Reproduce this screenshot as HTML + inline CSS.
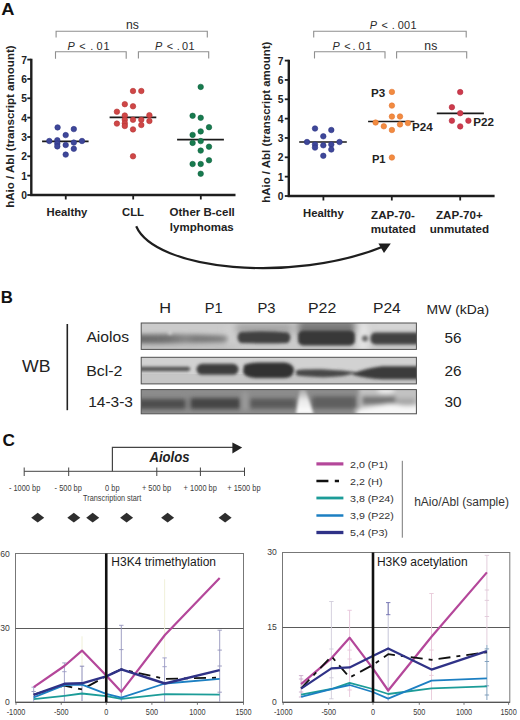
<!DOCTYPE html>
<html><head><meta charset="utf-8"><title>Figure</title>
<style>html,body{margin:0;padding:0;background:#fff;overflow:hidden;}svg{display:block;}</style></head>
<body><svg width="520" height="720" viewBox="0 0 520 720" font-family='"Liberation Sans", sans-serif'>
<rect width="520" height="720" fill="#fff"/>
<path d="M31.3 58.800000000000004V195H235.5" fill="none" stroke="#1e1e1e" stroke-width="2.4"/><path d="M27.3 195.00H31.3" stroke="#1e1e1e" stroke-width="1.8"/><text x="26.9" y="199.10" text-anchor="end" font-size="10.3" font-weight="bold" fill="#222">0</text><path d="M27.3 175.66H31.3" stroke="#1e1e1e" stroke-width="1.8"/><text x="26.9" y="179.76" text-anchor="end" font-size="10.3" font-weight="bold" fill="#222">1</text><path d="M27.3 156.31H31.3" stroke="#1e1e1e" stroke-width="1.8"/><text x="26.9" y="160.41" text-anchor="end" font-size="10.3" font-weight="bold" fill="#222">2</text><path d="M27.3 136.97H31.3" stroke="#1e1e1e" stroke-width="1.8"/><text x="26.9" y="141.07" text-anchor="end" font-size="10.3" font-weight="bold" fill="#222">3</text><path d="M27.3 117.63H31.3" stroke="#1e1e1e" stroke-width="1.8"/><text x="26.9" y="121.73" text-anchor="end" font-size="10.3" font-weight="bold" fill="#222">4</text><path d="M27.3 98.29H31.3" stroke="#1e1e1e" stroke-width="1.8"/><text x="26.9" y="102.39" text-anchor="end" font-size="10.3" font-weight="bold" fill="#222">5</text><path d="M27.3 78.94H31.3" stroke="#1e1e1e" stroke-width="1.8"/><text x="26.9" y="83.04" text-anchor="end" font-size="10.3" font-weight="bold" fill="#222">6</text><path d="M27.3 59.60H31.3" stroke="#1e1e1e" stroke-width="1.8"/><text x="26.9" y="63.70" text-anchor="end" font-size="10.3" font-weight="bold" fill="#222">7</text><path d="M65.75 195V199.5" stroke="#1e1e1e" stroke-width="1.8"/><path d="M133.2 195V199.5" stroke="#1e1e1e" stroke-width="1.8"/><path d="M200.8 195V199.5" stroke="#1e1e1e" stroke-width="1.8"/><path d="M56.1 37.6V31.3H207.3V37.6" fill="none" stroke="#8f8f8f" stroke-width="1.1"/><path d="M55.5 58.7V51.8H126.2V58.7" fill="none" stroke="#8f8f8f" stroke-width="1.1"/><path d="M138.4 58.5V51.8H208.7V58.5" fill="none" stroke="#8f8f8f" stroke-width="1.1"/><text x="132.4" y="28.9" text-anchor="middle" font-size="12.2" fill="#2a2a2a">ns</text><text y="50" font-size="10.9" fill="#2a2a2a"><tspan x="67.6" font-style="italic">P</tspan><tspan x="79.2">&lt;</tspan><tspan x="90.3">.</tspan><tspan x="96.6">0</tspan><tspan x="103.4">1</tspan></text><text y="50" font-size="10.9" fill="#2a2a2a"><tspan x="155.1" font-style="italic">P</tspan><tspan x="166.7">&lt;</tspan><tspan x="176.7">.</tspan><tspan x="182.1">0</tspan><tspan x="188.4">1</tspan></text><path d="M42.1 141.3H88.6M109.6 117.4H156.3M177.1 139.6H223.9" stroke="#1a1a1a" stroke-width="1.7"/><circle cx="57.6" cy="127.4" r="2.75" fill="#3e4799" stroke="#2e3484" stroke-width="0.6"/><circle cx="73.8" cy="129.1" r="2.75" fill="#3e4799" stroke="#2e3484" stroke-width="0.6"/><circle cx="65.7" cy="135.1" r="2.75" fill="#3e4799" stroke="#2e3484" stroke-width="0.6"/><circle cx="49.3" cy="141" r="2.75" fill="#3e4799" stroke="#2e3484" stroke-width="0.6"/><circle cx="57.3" cy="140.2" r="2.75" fill="#3e4799" stroke="#2e3484" stroke-width="0.6"/><circle cx="57.3" cy="143.6" r="2.75" fill="#3e4799" stroke="#2e3484" stroke-width="0.6"/><circle cx="57.3" cy="146.4" r="2.75" fill="#3e4799" stroke="#2e3484" stroke-width="0.6"/><circle cx="65.7" cy="145" r="2.75" fill="#3e4799" stroke="#2e3484" stroke-width="0.6"/><circle cx="73.8" cy="142.6" r="2.75" fill="#3e4799" stroke="#2e3484" stroke-width="0.6"/><circle cx="73.8" cy="148.8" r="2.75" fill="#3e4799" stroke="#2e3484" stroke-width="0.6"/><circle cx="82" cy="141" r="2.75" fill="#3e4799" stroke="#2e3484" stroke-width="0.6"/><circle cx="65.7" cy="154.6" r="2.75" fill="#3e4799" stroke="#2e3484" stroke-width="0.6"/><circle cx="133" cy="91" r="2.75" fill="#cf4747" stroke="#b63434" stroke-width="0.6"/><circle cx="141.3" cy="91" r="2.75" fill="#cf4747" stroke="#b63434" stroke-width="0.6"/><circle cx="124.8" cy="104.2" r="2.75" fill="#cf4747" stroke="#b63434" stroke-width="0.6"/><circle cx="133" cy="106.3" r="2.75" fill="#cf4747" stroke="#b63434" stroke-width="0.6"/><circle cx="116.9" cy="111.7" r="2.75" fill="#cf4747" stroke="#b63434" stroke-width="0.6"/><circle cx="124.8" cy="115.5" r="2.75" fill="#cf4747" stroke="#b63434" stroke-width="0.6"/><circle cx="149.4" cy="115.2" r="2.75" fill="#cf4747" stroke="#b63434" stroke-width="0.6"/><circle cx="133" cy="119.8" r="2.75" fill="#cf4747" stroke="#b63434" stroke-width="0.6"/><circle cx="141.3" cy="119.8" r="2.75" fill="#cf4747" stroke="#b63434" stroke-width="0.6"/><circle cx="149.4" cy="121" r="2.75" fill="#cf4747" stroke="#b63434" stroke-width="0.6"/><circle cx="116.9" cy="123.6" r="2.75" fill="#cf4747" stroke="#b63434" stroke-width="0.6"/><circle cx="124.8" cy="119.8" r="2.75" fill="#cf4747" stroke="#b63434" stroke-width="0.6"/><circle cx="124.8" cy="123.3" r="2.75" fill="#cf4747" stroke="#b63434" stroke-width="0.6"/><circle cx="124.8" cy="126" r="2.75" fill="#cf4747" stroke="#b63434" stroke-width="0.6"/><circle cx="141.3" cy="125" r="2.75" fill="#cf4747" stroke="#b63434" stroke-width="0.6"/><circle cx="133" cy="129.4" r="2.75" fill="#cf4747" stroke="#b63434" stroke-width="0.6"/><circle cx="133" cy="156.3" r="2.75" fill="#cf4747" stroke="#b63434" stroke-width="0.6"/><circle cx="200.7" cy="86.9" r="2.75" fill="#177b4e" stroke="#0f6140" stroke-width="0.6"/><circle cx="192.6" cy="115.8" r="2.75" fill="#177b4e" stroke="#0f6140" stroke-width="0.6"/><circle cx="200.7" cy="117.8" r="2.75" fill="#177b4e" stroke="#0f6140" stroke-width="0.6"/><circle cx="209" cy="127.2" r="2.75" fill="#177b4e" stroke="#0f6140" stroke-width="0.6"/><circle cx="200.7" cy="131.4" r="2.75" fill="#177b4e" stroke="#0f6140" stroke-width="0.6"/><circle cx="192.6" cy="134.9" r="2.75" fill="#177b4e" stroke="#0f6140" stroke-width="0.6"/><circle cx="200.7" cy="141.1" r="2.75" fill="#177b4e" stroke="#0f6140" stroke-width="0.6"/><circle cx="192.6" cy="142.9" r="2.75" fill="#177b4e" stroke="#0f6140" stroke-width="0.6"/><circle cx="209" cy="146.7" r="2.75" fill="#177b4e" stroke="#0f6140" stroke-width="0.6"/><circle cx="200.7" cy="150.6" r="2.75" fill="#177b4e" stroke="#0f6140" stroke-width="0.6"/><circle cx="209" cy="160.3" r="2.75" fill="#177b4e" stroke="#0f6140" stroke-width="0.6"/><circle cx="192.6" cy="164" r="2.75" fill="#177b4e" stroke="#0f6140" stroke-width="0.6"/><circle cx="200.7" cy="164" r="2.75" fill="#177b4e" stroke="#0f6140" stroke-width="0.6"/><circle cx="200.7" cy="173.75" r="2.75" fill="#177b4e" stroke="#0f6140" stroke-width="0.6"/><text x="9.8" y="126.6" transform="rotate(-90 9.8 126.6)" dy="3.9" text-anchor="middle" font-size="11.55" font-weight="bold" fill="#222">hAio / Abl (transcript amount)</text><g fill="#222"><text x="67.00" y="216.20" font-size="11.30" font-weight="bold" text-anchor="middle" fill="#222">Healthy</text><text x="133.00" y="216.20" font-size="11.30" font-weight="bold" text-anchor="middle" fill="#222">CLL</text><text x="202.20" y="216.20" font-size="11.50" font-weight="bold" text-anchor="middle" fill="#222">Other B-cell</text><text x="201.80" y="230.60" font-size="11.50" font-weight="bold" text-anchor="middle" fill="#222">lymphomas</text></g><path d="M288.8 59.800000000000004V196H494.6" fill="none" stroke="#1e1e1e" stroke-width="2.4"/><path d="M284.8 196.00H288.8" stroke="#1e1e1e" stroke-width="1.8"/><text x="283.5" y="200.10" text-anchor="end" font-size="10.3" font-weight="bold" fill="#222">0</text><path d="M284.8 176.66H288.8" stroke="#1e1e1e" stroke-width="1.8"/><text x="283.5" y="180.76" text-anchor="end" font-size="10.3" font-weight="bold" fill="#222">1</text><path d="M284.8 157.31H288.8" stroke="#1e1e1e" stroke-width="1.8"/><text x="283.5" y="161.41" text-anchor="end" font-size="10.3" font-weight="bold" fill="#222">2</text><path d="M284.8 137.97H288.8" stroke="#1e1e1e" stroke-width="1.8"/><text x="283.5" y="142.07" text-anchor="end" font-size="10.3" font-weight="bold" fill="#222">3</text><path d="M284.8 118.63H288.8" stroke="#1e1e1e" stroke-width="1.8"/><text x="283.5" y="122.73" text-anchor="end" font-size="10.3" font-weight="bold" fill="#222">4</text><path d="M284.8 99.29H288.8" stroke="#1e1e1e" stroke-width="1.8"/><text x="283.5" y="103.39" text-anchor="end" font-size="10.3" font-weight="bold" fill="#222">5</text><path d="M284.8 79.94H288.8" stroke="#1e1e1e" stroke-width="1.8"/><text x="283.5" y="84.04" text-anchor="end" font-size="10.3" font-weight="bold" fill="#222">6</text><path d="M284.8 60.60H288.8" stroke="#1e1e1e" stroke-width="1.8"/><text x="283.5" y="64.70" text-anchor="end" font-size="10.3" font-weight="bold" fill="#222">7</text><path d="M323.4 196V200.5" stroke="#1e1e1e" stroke-width="1.8"/><path d="M391.8 196V200.5" stroke="#1e1e1e" stroke-width="1.8"/><path d="M460.2 196V200.5" stroke="#1e1e1e" stroke-width="1.8"/><path d="M313.7 37.6V31.3H466.2V37.6" fill="none" stroke="#8f8f8f" stroke-width="1.1"/><path d="M314.5 58.4V51.8H385V58.4" fill="none" stroke="#8f8f8f" stroke-width="1.1"/><path d="M396.6 58.4V51.8H466.7V58.4" fill="none" stroke="#8f8f8f" stroke-width="1.1"/><text y="29.4" font-size="10.9" fill="#2a2a2a"><tspan x="369.8" font-style="italic">P</tspan><tspan x="381.4">&lt;</tspan><tspan x="391.7">.</tspan><tspan x="397.8">0</tspan><tspan x="404">0</tspan><tspan x="410.6">1</tspan></text><text y="49.9" font-size="10.9" fill="#2a2a2a"><tspan x="332.6" font-style="italic">P</tspan><tspan x="344.2">&lt;</tspan><tspan x="352.6">.</tspan><tspan x="358.6">0</tspan><tspan x="365.6">1</tspan></text><text x="430.8" y="49.6" text-anchor="middle" font-size="12.2" fill="#2a2a2a">ns</text><path d="M299.2 142H346.8M368.1 121.5H414.4M436.8 113.3H483.9" stroke="#1a1a1a" stroke-width="1.7"/><circle cx="315" cy="128.5" r="2.75" fill="#3e4799" stroke="#2e3484" stroke-width="0.6"/><circle cx="331.3" cy="130" r="2.75" fill="#3e4799" stroke="#2e3484" stroke-width="0.6"/><circle cx="323.3" cy="136.3" r="2.75" fill="#3e4799" stroke="#2e3484" stroke-width="0.6"/><circle cx="307" cy="142" r="2.75" fill="#3e4799" stroke="#2e3484" stroke-width="0.6"/><circle cx="315" cy="144.5" r="2.75" fill="#3e4799" stroke="#2e3484" stroke-width="0.6"/><circle cx="323.3" cy="145.3" r="2.75" fill="#3e4799" stroke="#2e3484" stroke-width="0.6"/><circle cx="331.3" cy="144.5" r="2.75" fill="#3e4799" stroke="#2e3484" stroke-width="0.6"/><circle cx="339.5" cy="142" r="2.75" fill="#3e4799" stroke="#2e3484" stroke-width="0.6"/><circle cx="315" cy="147.6" r="2.75" fill="#3e4799" stroke="#2e3484" stroke-width="0.6"/><circle cx="331.3" cy="149.5" r="2.75" fill="#3e4799" stroke="#2e3484" stroke-width="0.6"/><circle cx="323.3" cy="155.8" r="2.75" fill="#3e4799" stroke="#2e3484" stroke-width="0.6"/><circle cx="391.9" cy="91.9" r="2.75" fill="#f28b40" stroke="#e27632" stroke-width="0.6"/><circle cx="391.9" cy="105.6" r="2.75" fill="#f28b40" stroke="#e27632" stroke-width="0.6"/><circle cx="391.9" cy="116.6" r="2.75" fill="#f28b40" stroke="#e27632" stroke-width="0.6"/><circle cx="400" cy="116.5" r="2.75" fill="#f28b40" stroke="#e27632" stroke-width="0.6"/><circle cx="375.6" cy="122.5" r="2.75" fill="#f28b40" stroke="#e27632" stroke-width="0.6"/><circle cx="383.8" cy="126.3" r="2.75" fill="#f28b40" stroke="#e27632" stroke-width="0.6"/><circle cx="391.9" cy="130" r="2.75" fill="#f28b40" stroke="#e27632" stroke-width="0.6"/><circle cx="400" cy="124.4" r="2.75" fill="#f28b40" stroke="#e27632" stroke-width="0.6"/><circle cx="407.9" cy="123.1" r="2.75" fill="#f28b40" stroke="#e27632" stroke-width="0.6"/><circle cx="391.9" cy="157.5" r="2.75" fill="#f28b40" stroke="#e27632" stroke-width="0.6"/><circle cx="460.2" cy="92.1" r="2.75" fill="#cd3a4c" stroke="#b42c3e" stroke-width="0.6"/><circle cx="451.9" cy="107.2" r="2.75" fill="#cd3a4c" stroke="#b42c3e" stroke-width="0.6"/><circle cx="460.2" cy="113.2" r="2.75" fill="#cd3a4c" stroke="#b42c3e" stroke-width="0.6"/><circle cx="451.9" cy="120.7" r="2.75" fill="#cd3a4c" stroke="#b42c3e" stroke-width="0.6"/><circle cx="468.4" cy="120.7" r="2.75" fill="#cd3a4c" stroke="#b42c3e" stroke-width="0.6"/><circle cx="460.2" cy="126.4" r="2.75" fill="#cd3a4c" stroke="#b42c3e" stroke-width="0.6"/><text x="265.9" y="122.2" transform="rotate(-90 265.9 122.2)" dy="3.9" text-anchor="middle" font-size="11.46" font-weight="bold" fill="#222">hAio / Abl (transcript amount)</text><g fill="#222"><text x="371.10" y="97.20" font-size="11.60" font-weight="bold" fill="#222">P3</text><text x="371.90" y="162.80" font-size="11.20" font-weight="bold" fill="#222">P1</text><text x="412.10" y="130.70" font-size="11.60" font-weight="bold" fill="#222">P24</text><text x="473.30" y="126.40" font-size="11.60" font-weight="bold" fill="#222">P22</text><text x="323.40" y="217.40" font-size="11.30" font-weight="bold" text-anchor="middle" fill="#222">Healthy</text><text x="393.00" y="219.30" font-size="11.60" font-weight="bold" text-anchor="middle" fill="#222">ZAP-70-</text><text x="393.30" y="232.50" font-size="11.60" font-weight="bold" text-anchor="middle" fill="#222">mutated</text><text x="459.40" y="219.30" font-size="11.60" font-weight="bold" text-anchor="middle" fill="#222">ZAP-70+</text><text x="459.40" y="232.50" font-size="11.60" font-weight="bold" text-anchor="middle" fill="#222">unmutated</text></g><path d="M136.2 226.3C155.3 270.4 292.7 283.7 384 246.2" fill="none" stroke="#1e1e1e" stroke-width="2.2"/><path d="M378.4 243.4L390.8 243.4L384 253Z" fill="#1e1e1e"/><text transform="translate(1.3 14.8) scale(1.09 1)" font-size="16.8" font-weight="bold" fill="#111">A</text><text x="0.8" y="302.7" font-size="16.8" font-weight="bold" fill="#111">B</text><text x="2.4" y="446" font-size="17.2" font-weight="bold" fill="#111">C</text><g fill="#222"><text transform="translate(159.30 312.50) scale(1.150 1)" font-size="14.20" fill="#222">H</text><text transform="translate(204.80 312.50) scale(1.030 1)" font-size="14.20" fill="#222">P1</text><text transform="translate(257.40 312.50) scale(1.040 1)" font-size="14.20" fill="#222">P3</text><text transform="translate(308.00 312.50) scale(1.120 1)" font-size="14.20" fill="#222">P22</text><text transform="translate(373.00 312.50) scale(1.100 1)" font-size="14.20" fill="#222">P24</text><text transform="translate(426.60 314.30) scale(1.130 1)" font-size="12.30" fill="#222">MW (kDa)</text><text transform="translate(22.00 372.20) scale(1.120 1)" font-size="15.80" fill="#222">WB</text><text transform="translate(86.40 341.60) scale(1.075 1)" font-size="14.60" fill="#222">Aiolos</text><text transform="translate(86.20 376.20) scale(1.120 1)" font-size="14.20" fill="#222">Bcl-2</text><text transform="translate(88.20 407.20) scale(1.090 1)" font-size="14.20" fill="#222">14-3-3</text><text transform="translate(444.50 342.80) scale(1.080 1)" font-size="14.20" fill="#222">56</text><text transform="translate(444.50 376.20) scale(1.080 1)" font-size="14.20" fill="#222">26</text><text transform="translate(444.50 407.20) scale(1.080 1)" font-size="14.20" fill="#222">30</text></g><path d="M67.3 324V410.2" stroke="#222" stroke-width="1.6"/><defs>
<filter id="bl" x="-20%" y="-80%" width="140%" height="260%"><feGaussianBlur stdDeviation="1.5"/></filter>
<filter id="bl2" x="-20%" y="-80%" width="140%" height="260%"><feGaussianBlur stdDeviation="2.2"/></filter>
<filter id="bl3" x="-20%" y="-80%" width="140%" height="260%"><feGaussianBlur stdDeviation="3.5"/></filter>
<clipPath id="c1"><rect x="141.2" y="323" width="275.2" height="26.4"/></clipPath>
<clipPath id="c2"><rect x="141.2" y="357.3" width="275.2" height="26.6"/></clipPath>
<clipPath id="c3"><rect x="141.2" y="389.6" width="275.2" height="24.2"/></clipPath>
</defs><defs><linearGradient id="hb" x1="141" y1="0" x2="230" y2="0" gradientUnits="userSpaceOnUse"><stop offset="0" stop-color="#6a6a6a"/><stop offset="0.3" stop-color="#727272"/><stop offset="0.5" stop-color="#888"/><stop offset="0.62" stop-color="#7a7a7a"/><stop offset="0.9" stop-color="#808080"/><stop offset="1" stop-color="#a0a0a0"/></linearGradient></defs><g clip-path="url(#c1)"><rect x="141" y="323" width="276" height="27" fill="#cbcbcb"/><g filter="url(#bl3)"><rect x="236" y="324" width="56" height="9" fill="#a0a0a0"/><rect x="298" y="321" width="58" height="13" fill="#777"/><rect x="357" y="322" width="12" height="30" fill="#e4e4e4"/><rect x="372" y="321" width="45" height="9" fill="#d8d8d8"/><rect x="141" y="345" width="95" height="6" fill="#bcbcbc"/><rect x="226" y="326" width="8" height="20" fill="#d0d0d0"/></g><g filter="url(#bl2)"><path d="M136 334.5Q180 333 226 335.5Q230 338.5 226 342.5Q180 344 136 343.5Z" fill="url(#hb)"/></g><g filter="url(#bl)"><circle cx="170" cy="333" r="1.8" fill="#dadada"/><path d="M240 332Q265 330.5 288 332.5Q293 337 288 343Q265 344 240 343Q235 337.5 240 332Z" fill="#414141"/><rect x="298" y="330.5" width="57" height="15" rx="5" fill="#383838"/><circle cx="365" cy="338.5" r="3" fill="#666"/><rect x="370.5" y="332.5" width="50" height="12" rx="5" fill="#424242"/></g></g><g clip-path="url(#c2)"><rect x="141" y="357" width="276" height="28" fill="#d2d2d2"/><rect x="141" y="374" width="276" height="10" fill="#c6c6c6"/><g filter="url(#bl)"><path d="M138 366.8H188Q193 368.8 188 371.2H138Z" fill="#535353"/><rect x="196.5" y="363.8" width="42" height="11" rx="5.5" fill="#3e3e3e"/><path d="M244 365Q250 362 262 362.5H285Q294 364 294 370Q294 377 285 378H255Q244 377 243 372Z" fill="#303030"/><path d="M296 370.5Q300 369 322 369.3Q345 370.5 357 372.3Q345 377.5 322 377.2Q300 376.5 296 375Z" fill="#474747"/><path d="M353 373.2Q366 368.5 382 366.3H420V379.3H382Q366 378.5 353 374.8Z" fill="#3a3a3a"/></g></g><defs><linearGradient id="gg" x1="0" y1="0" x2="0" y2="1"><stop offset="0" stop-color="#a0a0a0"/><stop offset="0.45" stop-color="#e8e8e8"/><stop offset="1" stop-color="#ffffff"/></linearGradient></defs><g clip-path="url(#c3)"><rect x="141" y="389" width="276" height="25" fill="#8c8c8c"/><g filter="url(#bl2)"><rect x="138" y="399" width="48" height="10" fill="#4e4e4e"/><rect x="186" y="394" width="4" height="16" fill="#8a8a8a"/><rect x="190" y="398" width="50" height="11" fill="#444"/><rect x="242" y="392" width="6" height="18" fill="#9a9a9a"/><rect x="250" y="398.5" width="46" height="10" fill="#5a5a5a"/><rect x="312" y="396.5" width="44" height="12" fill="#5e5e5e"/><rect x="359" y="386" width="62" height="30" fill="#c2c2c2"/><ellipse cx="386" cy="390.5" rx="9" ry="3" fill="#eeeeee"/><rect x="362" y="396" width="34" height="9" fill="#767676"/><rect x="395" y="398" width="20" height="7" fill="#a8a8a8"/><path d="M356 410Q372 407 382 405Q392 403 400 405.5Q408 407 420 405V418H356Z" fill="#f7f7f7"/></g><g filter="url(#bl)"><path d="M300 389H305.5L313.5 414H296Z" fill="url(#gg)"/></g></g><g fill="none" stroke="#505050" stroke-width="1"><rect x="141.2" y="323" width="275.2" height="26.4"/><rect x="141.2" y="357.3" width="275.2" height="26.6"/><rect x="141.2" y="389.6" width="275.2" height="24.2"/></g><g stroke="#444" stroke-width="1" fill="none"><path d="M24.2 471.3H244.5"/><path d="M24.2 467.5V476"/><path d="M68.7 467.5V476"/><path d="M156.8 467.5V476"/><path d="M200.4 467.5V476"/><path d="M244.5 467.5V476"/><path d="M112.4 471.3V447.4H234" stroke-width="1.2"/></g><path d="M232.4 442.4L242.2 447.5L232.4 453.5Z" fill="#222"/><text transform="translate(149.40 462.30) scale(0.850 1)" font-size="15.50" font-weight="bold" font-style="italic" fill="#222">Aiolos</text><text transform="translate(8.90 490.50) scale(0.865 1)" font-size="8.60" fill="#3c3c3c">- 1000 bp</text><text transform="translate(54.60 490.50) scale(0.865 1)" font-size="8.60" fill="#3c3c3c">- 500 bp</text><text transform="translate(105.10 490.50) scale(0.865 1)" font-size="8.60" fill="#3c3c3c">0 bp</text><text transform="translate(141.90 490.50) scale(0.865 1)" font-size="8.60" fill="#3c3c3c">+ 500 bp</text><text transform="translate(183.60 490.50) scale(0.865 1)" font-size="8.60" fill="#3c3c3c">+ 1000 bp</text><text transform="translate(227.30 490.50) scale(0.865 1)" font-size="8.60" fill="#3c3c3c">+ 1500 bp</text><text transform="translate(83.10 500.90) scale(0.850 1)" font-size="8.60" fill="#3c3c3c">Transcription start</text><path d="M31.200000000000003 517.7L37.7 512.8L44.2 517.7L37.7 522.6Z" fill="#2e2e2e"/><path d="M67.3 517.7L73.8 512.8L80.3 517.7L73.8 522.6Z" fill="#2e2e2e"/><path d="M86.2 517.7L92.7 512.8L99.2 517.7L92.7 522.6Z" fill="#2e2e2e"/><path d="M120.1 517.7L126.6 512.8L133.1 517.7L126.6 522.6Z" fill="#2e2e2e"/><path d="M161.1 517.7L167.6 512.8L174.1 517.7L167.6 522.6Z" fill="#2e2e2e"/><path d="M218.6 517.7L225.1 512.8L231.6 517.7L225.1 522.6Z" fill="#2e2e2e"/><path d="M316.4 463.9H343.4" stroke="#b4479a" stroke-width="3.2"/><text transform="translate(350.00 467.60) scale(1.100 1)" font-size="9.70" fill="#333">2,0 (P1)</text><path d="M316.4 481H328.4M334.8 481H339" stroke="#111" stroke-width="2.3"/><text transform="translate(350.00 484.70) scale(1.100 1)" font-size="9.70" fill="#333">2,2 (H)</text><path d="M316.4 498H343.4" stroke="#1c9c98" stroke-width="2.8"/><text transform="translate(350.00 501.70) scale(1.100 1)" font-size="9.70" fill="#333">3,8 (P24)</text><path d="M316.4 515.5H343.4" stroke="#1c7fc2" stroke-width="2.5"/><text transform="translate(350.00 519.20) scale(1.100 1)" font-size="9.70" fill="#333">3,9 (P22)</text><path d="M316.4 532.5H343.4" stroke="#2f3287" stroke-width="3.3"/><text transform="translate(350.00 536.20) scale(1.100 1)" font-size="9.70" fill="#333">5,4 (P3)</text><path d="M402.3 460.8V537.7" stroke="#777" stroke-width="1"/><text x="414.20" y="506.20" font-size="12.00" fill="#333">hAio/Abl (sample)</text><rect x="15.5" y="553.5" width="228.0" height="148.79999999999995" fill="#fff" stroke="#777" stroke-width="1"/><path d="M15.5 628.5H243.5" stroke="#5a5a5a" stroke-width="1"/><path d="M15.5 702.3H243.5" stroke="#555" stroke-width="1.3"/><path d="M16 702.3V704.8" stroke="#666" stroke-width="0.9"/><path d="M61.25 702.3V704.8" stroke="#666" stroke-width="0.9"/><path d="M106.25 702.3V704.8" stroke="#666" stroke-width="0.9"/><path d="M151.9 702.3V704.8" stroke="#666" stroke-width="0.9"/><path d="M197.4 702.3V704.8" stroke="#666" stroke-width="0.9"/><path d="M243.5 702.3V704.8" stroke="#666" stroke-width="0.9"/><path d="M33.7 687.2V702" stroke="#9c9cc4" stroke-width="0.9"/><path d="M31.500000000000004 687.2H35.900000000000006" stroke="#9c9cc4" stroke-width="0.9"/><path d="M31.500000000000004 691.5H35.900000000000006" stroke="#9c9cc4" stroke-width="0.9"/><path d="M64.4 662.9V702" stroke="#9c9cc4" stroke-width="0.9"/><path d="M62.2 662.9H66.60000000000001" stroke="#9c9cc4" stroke-width="0.9"/><path d="M62.2 671.7H66.60000000000001" stroke="#9c9cc4" stroke-width="0.9"/><path d="M82 636.3V666" stroke="#eeeed4" stroke-width="0.9"/><path d="M82 666.2V701" stroke="#8080b0" stroke-width="0.9"/><path d="M79.8 666.2H84.2" stroke="#8080b0" stroke-width="0.9"/><path d="M121.3 625.3V702" stroke="#9494bc" stroke-width="0.9"/><path d="M119.1 625.3H123.5" stroke="#9494bc" stroke-width="0.9"/><path d="M119.1 649.6H123.5" stroke="#9494bc" stroke-width="0.9"/><path d="M164.6 579.3V658" stroke="#efefd6" stroke-width="0.9"/><path d="M164.6 657.9V702" stroke="#9a9ac4" stroke-width="0.9"/><path d="M162.4 657.9H166.79999999999998" stroke="#9a9ac4" stroke-width="0.9"/><path d="M162.4 666.7H166.79999999999998" stroke="#9a9ac4" stroke-width="0.9"/><path d="M219.7 630.2V702" stroke="#9494bc" stroke-width="0.9"/><path d="M217.5 630.2H221.89999999999998" stroke="#9494bc" stroke-width="0.9"/><path d="M217.5 650.1H221.89999999999998" stroke="#9494bc" stroke-width="0.9"/><path d="M217.5 666H221.89999999999998" stroke="#9494bc" stroke-width="0.9"/><path d="M217.5 692.2H221.89999999999998" stroke="#9494bc" stroke-width="0.9"/><path d="M33.7 687.2L64.4 666L82 650.6L106.2 675.4L121.3 691.8L164.9 635L219.7 578.1" fill="none" stroke="#b4479a" stroke-width="2.2" stroke-linejoin="round"/><path d="M33.7 694.5L64.4 685.5L82 689.5L106.2 676.3L121.3 669.3L164.9 678.8L219.7 677.7" fill="none" stroke="#111" stroke-width="1.8" stroke-linejoin="round" stroke-dasharray="12 6 4 6"/><path d="M33.7 699.2L64.4 695.8L82 693.5L106.2 696.2L121.3 698.8L164.9 694.1L219.7 694.6" fill="none" stroke="#1c9c98" stroke-width="1.8" stroke-linejoin="round"/><path d="M33.7 697.3L64.4 685.2L82 684.6L106.2 693.8L121.3 697.6L164.9 683.5L219.7 678.8" fill="none" stroke="#1c7fc2" stroke-width="1.8" stroke-linejoin="round"/><path d="M33.7 694.8L64.4 683.8L82 683.3L106.2 676.3L121.3 669.3L164.9 683.5L219.7 670.2" fill="none" stroke="#2f3287" stroke-width="2.4" stroke-linejoin="round"/><path d="M106.25 553.5V702.3" stroke="#111" stroke-width="2.6"/><text x="9.7" y="556.6999999999999" text-anchor="end" font-size="8.6" fill="#3a3a3a">60</text><text x="9.7" y="630.9" text-anchor="end" font-size="8.6" fill="#3a3a3a">30</text><text x="9.7" y="704.9" text-anchor="end" font-size="8.6" fill="#3a3a3a">0</text><text transform="translate(16 715.3) scale(0.88 1)" text-anchor="middle" font-size="8.3" fill="#3a3a3a">-1000</text><text transform="translate(61.25 715.3) scale(0.88 1)" text-anchor="middle" font-size="8.3" fill="#3a3a3a">-500</text><text transform="translate(106.25 715.3) scale(0.88 1)" text-anchor="middle" font-size="8.3" fill="#3a3a3a">0</text><text transform="translate(151.9 715.3) scale(0.88 1)" text-anchor="middle" font-size="8.3" fill="#3a3a3a">500</text><text transform="translate(197.4 715.3) scale(0.88 1)" text-anchor="middle" font-size="8.3" fill="#3a3a3a">1000</text><text transform="translate(243.5 715.3) scale(0.88 1)" text-anchor="middle" font-size="8.3" fill="#3a3a3a">1500</text><text x="111.30" y="565.60" font-size="12.00" fill="#1a1a1a">H3K4 trimethylation</text><rect x="282.5" y="552.5" width="227.3" height="149.79999999999995" fill="#fff" stroke="#777" stroke-width="1"/><path d="M282.5 627.5H509.8" stroke="#5a5a5a" stroke-width="1"/><path d="M282.5 702.3H509.8" stroke="#555" stroke-width="1.3"/><path d="M283.2 702.3V704.8" stroke="#666" stroke-width="0.9"/><path d="M328.7 702.3V704.8" stroke="#666" stroke-width="0.9"/><path d="M373 702.3V704.8" stroke="#666" stroke-width="0.9"/><path d="M419.3 702.3V704.8" stroke="#666" stroke-width="0.9"/><path d="M464 702.3V704.8" stroke="#666" stroke-width="0.9"/><path d="M508.6 702.3V704.8" stroke="#666" stroke-width="0.9"/><path d="M301.1 675.6V697" stroke="#c8a8c8" stroke-width="0.9"/><path d="M298.90000000000003 675.6H303.3" stroke="#c8a8c8" stroke-width="0.9"/><path d="M298.90000000000003 679H303.3" stroke="#c8a8c8" stroke-width="0.9"/><path d="M298.90000000000003 692H303.3" stroke="#c8a8c8" stroke-width="0.9"/><path d="M298.90000000000003 697H303.3" stroke="#c8a8c8" stroke-width="0.9"/><path d="M331.4 601.5V699" stroke="#d0ccda" stroke-width="0.9"/><path d="M329.2 601.5H333.59999999999997" stroke="#d0ccda" stroke-width="0.9"/><path d="M329.2 649H333.59999999999997" stroke="#d0ccda" stroke-width="0.9"/><path d="M329.2 677.8H333.59999999999997" stroke="#d0ccda" stroke-width="0.9"/><path d="M329.2 698.8H333.59999999999997" stroke="#d0ccda" stroke-width="0.9"/><path d="M349.6 610.3V697" stroke="#e6c4da" stroke-width="0.9"/><path d="M347.40000000000003 610.3H351.8" stroke="#e6c4da" stroke-width="0.9"/><path d="M347.40000000000003 650.1H351.8" stroke="#e6c4da" stroke-width="0.9"/><path d="M347.40000000000003 659H351.8" stroke="#e6c4da" stroke-width="0.9"/><path d="M347.40000000000003 690H351.8" stroke="#e6c4da" stroke-width="0.9"/><path d="M388.2 602.6V702" stroke="#c0c0d4" stroke-width="0.9"/><path d="M388.2 602.6V615" stroke="#7070b0" stroke-width="0.9"/><path d="M386.0 602.6H390.4" stroke="#7070b0" stroke-width="0.9"/><path d="M386.0 614.7H390.4" stroke="#7070b0" stroke-width="0.9"/><path d="M431.5 593.5V700" stroke="#e8c8d8" stroke-width="0.9"/><path d="M429.3 593.5H433.7" stroke="#e8c8d8" stroke-width="0.9"/><path d="M429.3 650H433.7" stroke="#e8c8d8" stroke-width="0.9"/><path d="M429.3 675.4H433.7" stroke="#e8c8d8" stroke-width="0.9"/><path d="M486.9 555.4V645" stroke="#e0c8d8" stroke-width="0.9"/><path d="M484.7 555.4H489.09999999999997" stroke="#e0c8d8" stroke-width="0.9"/><path d="M484.7 590H489.09999999999997" stroke="#e0c8d8" stroke-width="0.9"/><path d="M484.7 600.4H489.09999999999997" stroke="#e0c8d8" stroke-width="0.9"/><path d="M484.7 616.5H489.09999999999997" stroke="#e0c8d8" stroke-width="0.9"/><path d="M486.9 645V700" stroke="#7898b8" stroke-width="0.9"/><path d="M484.7 648.9H489.09999999999997" stroke="#7898b8" stroke-width="0.9"/><path d="M484.7 661.5H489.09999999999997" stroke="#7898b8" stroke-width="0.9"/><path d="M484.7 685.8H489.09999999999997" stroke="#7898b8" stroke-width="0.9"/><path d="M484.7 695H489.09999999999997" stroke="#7898b8" stroke-width="0.9"/><path d="M301.1 684.1L331.4 658.3L349.6 637.7L372.8 668.4L388.2 690.5L431.5 636.7L486.9 572.4" fill="none" stroke="#b4479a" stroke-width="2.2" stroke-linejoin="round"/><path d="M301.1 688.4L331.4 656.3L349.6 677.5L372.8 665L388.2 654.2L431.5 659.8L486.9 652.3" fill="none" stroke="#111" stroke-width="1.8" stroke-linejoin="round" stroke-dasharray="12 6 4 6"/><path d="M301.1 694.6L331.4 689L349.6 682.9L372.8 689L388.2 694L431.5 688.4L486.9 686.3" fill="none" stroke="#1c9c98" stroke-width="1.8" stroke-linejoin="round"/><path d="M301.1 696.8L331.4 689.2L349.6 685L372.8 692L388.2 698.6L431.5 680.6L486.9 678.3" fill="none" stroke="#1c7fc2" stroke-width="1.8" stroke-linejoin="round"/><path d="M301.1 688.6L331.4 668.4L349.6 667.4L372.8 656L388.2 648.4L431.5 669.6L486.9 651.1" fill="none" stroke="#2f3287" stroke-width="2.2" stroke-linejoin="round"/><path d="M373 552.5V702.3" stroke="#111" stroke-width="2.6"/><text x="276.7" y="555.1" text-anchor="end" font-size="8.6" fill="#3a3a3a">30</text><text x="276.7" y="630.4" text-anchor="end" font-size="8.6" fill="#3a3a3a">15</text><text x="276.7" y="704.9" text-anchor="end" font-size="8.6" fill="#3a3a3a">0</text><text transform="translate(283.2 715.3) scale(0.88 1)" text-anchor="middle" font-size="8.3" fill="#3a3a3a">-1000</text><text transform="translate(328.7 715.3) scale(0.88 1)" text-anchor="middle" font-size="8.3" fill="#3a3a3a">-500</text><text transform="translate(373 715.3) scale(0.88 1)" text-anchor="middle" font-size="8.3" fill="#3a3a3a">0</text><text transform="translate(419.3 715.3) scale(0.88 1)" text-anchor="middle" font-size="8.3" fill="#3a3a3a">500</text><text transform="translate(464 715.3) scale(0.88 1)" text-anchor="middle" font-size="8.3" fill="#3a3a3a">1000</text><text transform="translate(508.6 715.3) scale(0.88 1)" text-anchor="middle" font-size="8.3" fill="#3a3a3a">1500</text><text x="376.90" y="565.60" font-size="12.00" fill="#1a1a1a">H3K9 acetylation</text>
</svg></body></html>
